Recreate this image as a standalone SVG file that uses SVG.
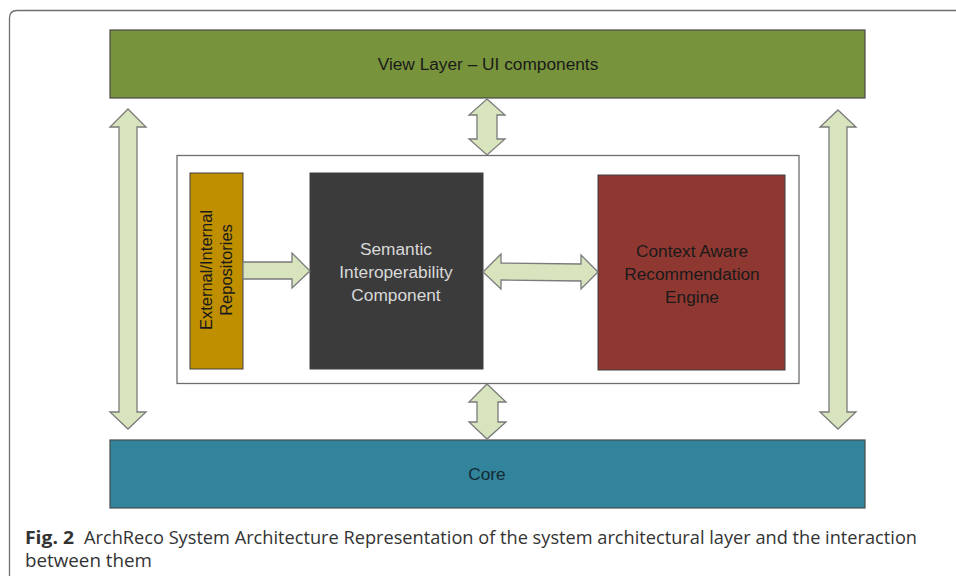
<svg xmlns="http://www.w3.org/2000/svg" width="956" height="576" viewBox="0 0 956 576">
  <style>
    .layer { stroke: #4a4a4a; stroke-width: 1.2; }
    .box { stroke: #404040; stroke-width: 1; }
    .frame { fill: #ffffff; stroke: #6e6e6e; stroke-width: 1.3; }
    .arrow { fill: #d7e4bd; stroke: #7a7a7a; stroke-width: 1.3; stroke-linejoin: miter; }
    .lbl { font-family: "Liberation Sans", Arial, sans-serif; font-size: 17.3px; text-anchor: middle; }
    .vlbl { font-family: "Liberation Sans", Arial, sans-serif; font-size: 16.5px; text-anchor: middle; }
    .cap { font-family: "Open Sans", "Liberation Sans", sans-serif; font-size: 18.5px; fill: #333333; }
  </style>

  <rect width="956" height="576" fill="#ffffff"/>

  <!-- figure card outline (continues past the right and bottom edges) -->
  <path d="M9.5,576 V18 Q9.5,10.5 17,10.5 H956" fill="none" stroke="#707070" stroke-width="1.3"/>

  <g id="view-layer">
    <rect class="layer" x="110" y="30" width="755" height="68" fill="#77933c"/>
    <text class="lbl" x="488" y="70" fill="#1a1a1a">View Layer – UI components</text>
  </g>

  <g id="core">
    <rect class="layer" x="110" y="440" width="755" height="68" fill="#31849b"/>
    <text class="lbl" x="487" y="480" fill="#152a33">Core</text>
  </g>

  <g id="application-frame">
    <rect class="frame" x="177" y="155.5" width="622" height="228"/>
  </g>

  <g id="repositories">
    <rect class="box" x="190" y="173" width="53" height="196" fill="#bf8f00"/>
    <text class="vlbl" transform="translate(211.5,270) rotate(-90)" fill="#1a1a1a">External/Internal</text>
    <text class="vlbl" transform="translate(232,270) rotate(-90)" fill="#1a1a1a">Repositories</text>
  </g>

  <g id="semantic-interoperability">
    <rect class="box" x="310" y="173" width="173" height="196" fill="#3b3b3b"/>
    <text class="lbl" x="396" y="255" fill="#d9d9d9">Semantic</text>
    <text class="lbl" x="396" y="278" fill="#d9d9d9">Interoperability</text>
    <text class="lbl" x="396" y="301" fill="#d9d9d9">Component</text>
  </g>

  <g id="recommendation-engine">
    <rect class="box" x="598" y="175" width="187" height="195" fill="#8e3831"/>
    <text class="lbl" x="692" y="257" fill="#1a1a1a">Context Aware</text>
    <text class="lbl" x="692" y="280" fill="#1a1a1a">Recommendation</text>
    <text class="lbl" x="692" y="303" fill="#1a1a1a">Engine</text>
  </g>

  <g id="connectors">
    <!-- view layer <-> core, left side -->
    <polygon class="arrow" points="128,109 146,127 137,127 137,412 146,412 128,429 110,412 119,412 119,127 110,127"/>
    <!-- view layer <-> core, right side -->
    <polygon class="arrow" points="838,110 856,127 847,127 847,412 856,412 838,429 820,412 829,412 829,127 820,127"/>
    <!-- view layer <-> application frame -->
    <polygon class="arrow" points="487,99 505,115 497,115 497,139 505,139 487,155 469,139 477,139 477,115 469,115"/>
    <!-- application frame <-> core -->
    <polygon class="arrow" points="487,384 506,402 498,402 498,422 506,422 487,439 469,422 477,422 477,402 469,402"/>
    <!-- repositories -> semantic component -->
    <polygon class="arrow" points="243,262 292,262 292,253 310,271 292,288 292,279 243,279"/>
    <!-- semantic component <-> recommendation engine -->
    <polygon class="arrow" points="483,272 501,254 501,263 581,264 581,255 598,272 581,289 581,281 501,280 501,289"/>
  </g>

  <g id="caption">
    <text class="cap" x="25" y="544" font-weight="bold" textLength="49" lengthAdjust="spacingAndGlyphs">Fig. 2</text>
    <text class="cap" x="84" y="544" textLength="833" lengthAdjust="spacingAndGlyphs">ArchReco System Architecture Representation of the system architectural layer and the interaction</text>
    <text class="cap" x="25" y="567" textLength="127" lengthAdjust="spacingAndGlyphs">between them</text>
  </g>
</svg>
